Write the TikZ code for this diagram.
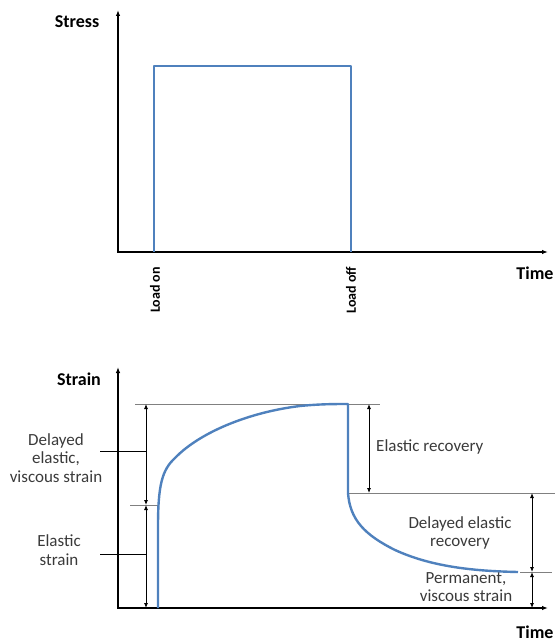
\documentclass[tikz,border=0pt]{standalone}
\usepackage{fontspec}
\setmainfont{Carlito}
\usetikzlibrary{arrows.meta}
\definecolor{curveblue}{HTML}{4F81BD}
\definecolor{lbl}{HTML}{3A3A3A}
\definecolor{guide}{HTML}{808080}
\tikzset{
  axis/.style={line width=1.4pt, black, {Latex[length=6pt,width=4.5pt]}-{Latex[length=6pt,width=4.5pt]}},
  curve/.style={line width=2.4pt, curveblue, line join=round},
  guideline/.style={line width=0.9pt, guide},
  tickline/.style={line width=0.8pt, black},
  dim/.style={line width=0.8pt, black, {Latex[length=5pt,width=4pt]}-{Latex[length=5pt,width=4pt]}},
  axlabel/.style={font=\fontsize{18}{20}\selectfont\bfseries, inner sep=0pt},
  rotlabel/.style={font=\fontsize{14}{16}\selectfont\bfseries, inner sep=0pt, rotate=90},
  note/.style={font=\fontsize{17}{18.5}\selectfont, text=lbl, align=center, inner sep=0pt}
}
\begin{document}
\begin{tikzpicture}[x=1pt,y=-1pt]
\useasboundingbox (0,0) rectangle (555,642);
% ---------- top plot ----------
\coordinate (tY) at (118,10);
\coordinate (tO) at (118,252);
\coordinate (tX) at (548,252);
\draw[axis] (tY) -- (tO) -- (tX);
\coordinate (s1) at (154,252);
\coordinate (s2) at (154,66);
\coordinate (s3) at (351,66);
\coordinate (s4) at (351,252);
\draw[curve] (s1) -- (s2) -- (s3) -- (s4);
\node[axlabel] (stress) at (77,22) {Stress};
\node[axlabel] (time1) at (535,273) {Time};
\node[rotlabel] (lon) at (155,290) {Load on};
\node[rotlabel] (loff) at (351,290) {Load off};
% ---------- bottom plot ----------
\coordinate (bY) at (118,367);
\coordinate (bO) at (118,608);
\coordinate (bX) at (548,608);
\draw[axis] (bY) -- (bO) -- (bX);
\node[axlabel] (strain) at (79,379) {Strain};
\node[axlabel] (time2) at (535,632) {Time};
% guide lines
\coordinate (gTopL) at (135,404);
\coordinate (gTopR) at (380,404);
\coordinate (gMidL) at (130,505);
\coordinate (gMidR) at (158,505);
\coordinate (gRecL) at (348,493);
\coordinate (gRecR) at (555,493);
\coordinate (gPerL) at (520,572);
\coordinate (gPerR) at (552,572);
\draw[guideline] (gTopL) -- (gTopR);
\draw[guideline] (gMidL) -- (gMidR);
\draw[guideline] (gRecL) -- (gRecR);
\draw[guideline] (gPerL) -- (gPerR);
% strain curve
\coordinate (c0) at (158,608);
\coordinate (peak) at (348,404);
\coordinate (drop) at (348,493);
\coordinate (cend) at (518,572);
\draw[curve] (c0) -- (158,527)
  .. controls (158,485) and (162,470) .. (175,458)
  .. controls (200,432) and (250,412) .. (300,406)
  .. controls (320,404) and (335,404) .. (peak)
  -- (drop)
  .. controls (350,520) and (365,535) .. (395,550)
  .. controls (430,566) and (470,571) .. (cend);
% dimension arrows
\coordinate (dA1) at (146,404);
\coordinate (dA2) at (146,505);
\coordinate (dA3) at (146,608);
\draw[dim] (dA1) -- (dA2);
\draw[dim] (dA2) -- (dA3);
\coordinate (dB1) at (369,404);
\coordinate (dB2) at (369,493);
\draw[dim] (dB1) -- (dB2);
\coordinate (dC1) at (532,493);
\coordinate (dC2) at (532,572);
\coordinate (dC3) at (532,608);
\draw[dim] (dC1) -- (dC2);
\draw[dim] (dC2) -- (dC3);
% leader ticks
\coordinate (t1L) at (100,451);
\coordinate (t1R) at (146,451);
\coordinate (t2L) at (100,554);
\coordinate (t2R) at (146,554);
\draw[tickline] (t1L) -- (t1R);
\draw[tickline] (t2L) -- (t2R);
% labels
\node[note] (delayed) at (56,458) {Delayed\\elastic,\\viscous strain};
\node[note] (elastic) at (59,550) {Elastic\\strain};
\node[note, anchor=west] (recov) at (376,447) {Elastic recovery};
\node[note] (delrec) at (460,533) {Delayed elastic\\recovery};
\node[note] (perm) at (466,587) {Permanent,\\viscous strain};
\end{tikzpicture}
\end{document}
